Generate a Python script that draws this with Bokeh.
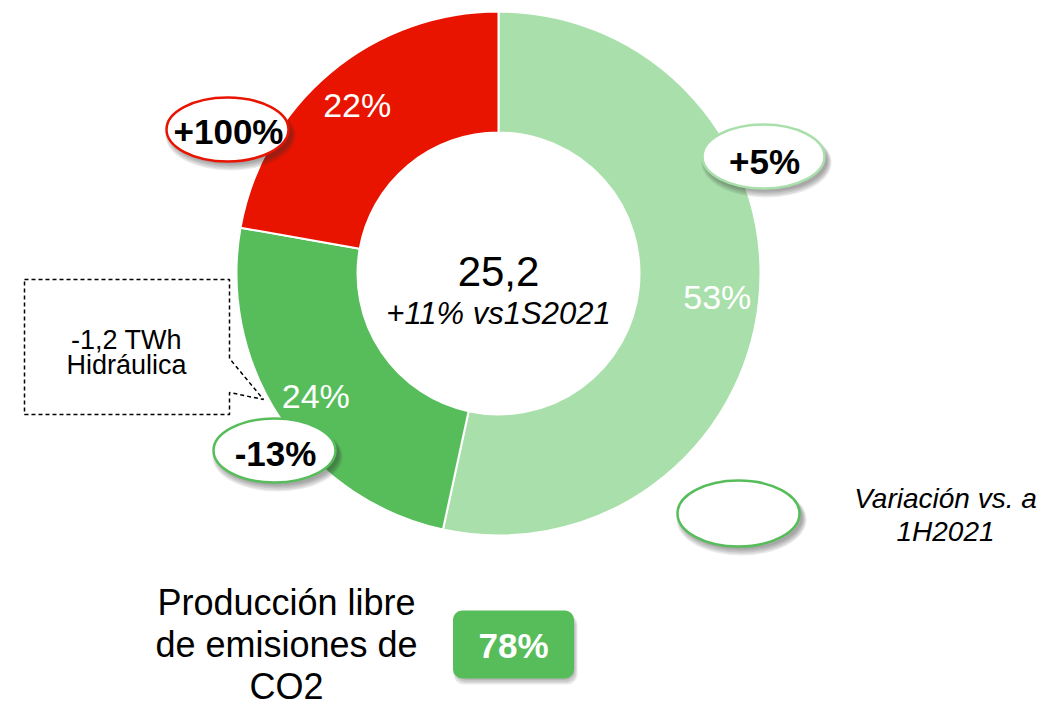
import math
from bokeh.plotting import figure
from bokeh.models import Range1d
from bokeh.core.properties import value
from bokeh.embed import file_html
from bokeh.resources import INLINE

# ---------------- data ----------------
segments = ["Segmento 1", "Segmento 2", "Segmento 3"]
shares = [53.4, 24.4, 22.2]
share_labels = ["53%", "24%", "22%"]
variations = ["+5%", "-13%", "+100%"]
seg_colors = ["#A9DFAB", "#57BD5B", "#E81400"]
total_label = "25,2"
total_sub = "+11% vs1S2021"
callout_lines = ["-1,2 TWh", "Hidráulica"]
legend_lines = ["Variación vs. a", "1H2021"]
co2_lines = ["Producción libre", "de emisiones de", "CO2"]
co2_value = "78%"

FONT = value("Liberation Sans")
W, H = 1048, 710


def Y(v):
    return H - v


p = figure(width=W, height=H, output_backend="svg", toolbar_location=None,
           x_range=Range1d(0, W), y_range=Range1d(0, H),
           min_border=0, min_border_left=0, min_border_right=0,
           min_border_top=0, min_border_bottom=0)
p.axis.visible = False
p.grid.visible = False
p.outline_line_color = None
p.background_fill_color = "white"
p.border_fill_color = "white"

cx, cy = 498, Y(273)
r_out, r_in = 262, 141

total = sum(shares)
cum = 0.0
mids = []
for s, c in zip(shares, seg_colors):
    a0 = math.pi / 2 - 2 * math.pi * cum / total
    a1 = math.pi / 2 - 2 * math.pi * (cum + s) / total
    p.annular_wedge(x=cx, y=cy, inner_radius=r_in, outer_radius=r_out,
                    start_angle=a0, end_angle=a1, direction="clock",
                    fill_color=c, line_color="white", line_width=2)
    mids.append((a0 + a1) / 2)
    cum += s

# slice labels along the mid angle
lr = 220
p.text(x=[cx + lr * math.cos(m) for m in mids], y=[cy + lr * math.sin(m) for m in mids],
       text=share_labels, text_font=FONT, text_font_size=value("34px"),
       text_color="white", text_align="center", text_baseline="middle")

# centre texts
p.text(x=[cx], y=[Y(271)], text=[total_label], text_font=FONT, text_font_size=value("42px"),
       text_color="black", text_align="center", text_baseline="middle")
p.text(x=[cx], y=[Y(313)], text=[total_sub], text_font=FONT, text_font_size=value("31px"),
       text_font_style="italic", text_color="black", text_align="center", text_baseline="middle")


def shadowed_ellipse(x, y, w, h, line_color):
    for k in range(5):
        p.ellipse(x=x + 3, y=y - 6 + k * 0.5, width=w + 8 - 2 * k, height=h + 6 - 2 * k,
                  fill_color="#303030", fill_alpha=0.1, line_color=None)
    p.ellipse(x=x, y=y, width=w, height=h, fill_color="white",
              line_color=line_color, line_width=2.5)


# variation ellipses: (+5% light green, -13% green, +100% red)
ell_pos = [(763, 156), (274, 450), (227, 129)]
ell_txt_dy = [5, 3, 2]
for (ex, ey), col, txt, dy in zip(ell_pos, seg_colors, variations, ell_txt_dy):
    shadowed_ellipse(ex, Y(ey), 122, 64, col)
    p.text(x=[ex + 1], y=[Y(ey + dy)], text=[txt], text_font=FONT,
           text_font_size=value("35px"), text_font_style="bold", text_color="black",
           text_align="center", text_baseline="middle")

# legend ellipse
shadowed_ellipse(738, Y(513), 122, 66, "#57BD5B")
p.text(x=[945, 945], y=[Y(498), Y(531)], text=legend_lines, text_font=FONT,
       text_font_size=value("28px"), text_font_style="italic", text_color="black",
       text_align="center", text_baseline="middle")

# dashed callout box
bx = [24, 229, 229, 263, 229, 229, 24]
by = [Y(v) for v in [279, 279, 358, 399, 392, 414, 414]]
p.patch(x=bx, y=by, fill_color="white", line_color="black", line_width=1.5,
        line_dash="4 3")
p.text(x=[126, 126], y=[Y(339), Y(364)], text=callout_lines, text_font=FONT,
       text_font_size=value("27px"), text_color="black", text_align="center",
       text_baseline="middle")

# bottom texts
p.text(x=[286, 286, 286], y=[Y(602), Y(644), Y(686)], text=co2_lines, text_font=FONT,
       text_font_size=value("36px"), text_color="black", text_align="center",
       text_baseline="middle")

# green rounded box with shadow
for k in range(4):
    p.rect(x=515, y=Y(649) + k * 0.5, width=124 - 2 * k, height=70 - 2 * k,
           fill_color="#303030", fill_alpha=0.1, line_color=None, border_radius=10)
p.rect(x=513, y=Y(644), width=121, height=68, fill_color="#57BD5B", line_color=None,
       border_radius=9)
p.text(x=[513], y=[Y(645)], text=[co2_value], text_font=FONT, text_font_size=value("35px"),
       text_font_style="bold", text_color="white", text_align="center", text_baseline="middle")

open("out.html", "w").write(file_html(p, INLINE))
